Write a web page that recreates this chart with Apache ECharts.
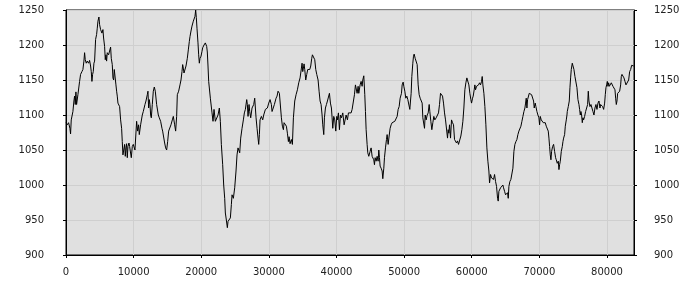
<!DOCTYPE html>
<html>
<head>
<meta charset="utf-8">
<script src="https://cdn.jsdelivr.net/npm/echarts@6/dist/echarts.min.js"></script>
<style>html,body{margin:0;padding:0;background:#fff}#c{width:700px;height:300px}</style>
</head>
<body>
<div id="c"></div>
<script>
var xTicks = [0, 10000, 20000, 30000, 40000, 50000, 60000, 70000, 80000];
var yTicks = [900, 950, 1000, 1050, 1100, 1150, 1200, 1250];

var xValues = [
0,184,283,381,578,677,776,1022,1171,1269,1368,1467,1565,1664,1763,2009,2157,2354,2502,2650,2749,2848,2996,3144,3341,3489,3637,3736,3834,3933,4032,4130,4229,4377,4525,4624,4722,4870,4969,5117,5216,5314,5462,5561,5709,5808,5906,6005,6104,6301,6449,6597,6696,6843,6942,7041,7139,7287,7386,7485,7583,7682,7781,7929,8077,8225,8323,8422,8570,8669,8767,8866,8965,9063,9162,9310,9409,9655,9803,9951,
10198,10444,10592,10740,10839,11036,11283,11431,11678,11826,12023,12122,12220,12319,12418,12516,12615,12763,12911,13059,13207,13404,13651,13799,13996,14193,14292,14489,14588,14736,14884,15032,15180,15377,15525,15723,15871,16068,16216,16364,16463,16660,16857,17005,17153,17252,17351,17449,17597,17745,17942,18090,18238,18337,18485,18633,18830,18929,19077,19176,19275,19373,19521,19620,19719,19817,19965,20113,20212,20409,20607,20804,20900,21000,
21100,21347,21594,21742,21890,22087,22334,22482,22679,22827,22975,23172,23320,23468,23567,23715,23863,23962,24159,24307,24455,24554,24751,24948,25145,25293,25441,25540,25688,25836,26033,26231,26379,26527,26724,26823,26921,27069,27168,27316,27513,27760,27908,28007,28106,28254,28401,28500,28599,28697,28895,29092,29240,29487,29783,29980,30177,30374,30473,30670,30818,31065,31213,31361,31558,
31657,31854,32002,32150,32249,32446,32594,32742,32890,32989,33137,33334,33482,33630,33827,34024,34222,34419,34616,34814,34912,35011,35110,35208,35307,35455,35603,35751,35899,36047,36195,36343,36442,36590,36787,36935,37083,37280,37428,37576,37724,37872,37971,38119,38218,38366,38514,38662,38809,38957,39105,39253,39352,39451,39599,39747,39895,40043,40141,40289,40437,40585,40733,40931,41128,41276,41424,41621,41769,41917,
42165,42313,42510,42658,42806,42905,43053,43201,43299,43497,43645,43793,43891,44039,44187,44286,44385,44532,44631,44779,44976,45124,45272,45371,45519,45618,45716,45864,46012,46160,46259,46358,46456,46604,46752,46851,46999,47098,47246,47394,47492,47640,47788,47936,48084,48232,48430,48627,48824,48972,49120,49268,49416,49613,49712,49860,49959,50107,50255,50403,50551,50699,50847,50945,51044,51143,51291,51390,51488,51636,51784,51932,52080,52228,52376,52524,52672,52771,52870,
53018,53117,53265,53413,53561,53709,53807,53955,54103,54251,54399,54547,54745,54942,55090,55238,55386,55534,55682,55830,55978,56126,56274,56422,56520,56619,56718,56866,57014,57162,57310,57458,57606,57754,57902,58050,58247,58395,58543,58691,58839,58987,59135,59283,59431,59579,59727,59875,59974,60122,60220,60368,60467,60566,60714,60862,61010,61158,61306,61453,61552,61651,61799,61947,62095,62243,62391,62539,62638,62786,62934,63082,63230,63378,
63526,63674,63822,63921,64019,64118,64266,64463,64611,64710,64858,65006,65154,65302,65401,65499,65647,65795,65943,66091,66239,66387,66535,66683,66831,66979,67127,67275,67423,67571,67719,67867,67966,68064,68163,68262,68410,68509,68656,68854,69002,69150,69248,69396,69495,69643,69791,69939,70038,70137,70285,70433,70580,70728,70876,71024,71172,71320,71419,71518,71617,71715,71814,71962,72110,72258,72406,72505,72653,72801,72900,72999,73098,73246,73394,73492,73591,73739,73838,73986,74085,
74132,74280,74428,74526,74625,74724,74872,74970,75118,75266,75414,75562,75710,75858,75957,76056,76154,76253,76352,76450,76549,76697,76845,76993,77141,77239,77338,77486,77634,77782,77930,78078,78226,78374,78522,78670,78818,78966,79065,79213,79361,79509,79657,79755,79854,79953,80051,80150,80249,80347,80495,80643,80791,80890,81038,81186,81285,81383,81482,81581,81679,81778,81877,82025,82123,82222,82370,82518,82666,82814,82913,83061,83209,83357,83505,83653,83801,83949
];

var yValues = [
1089,1086,1084,1089,1081,1073,1093,1105,1120,1127,1115,1133,1115,1117,1129,1148,1158,1162,1165,1177,1189,1179,1174,1177,1174,1178,1170,1162,1148,1158,1162,1174,1177,1208,1215,1224,1234,1240,1229,1222,1224,1217,1222,1210,1198,1179,1186,1177,1189,1186,1186,1197,1181,1172,1153,1150,1165,1165,1143,1134,1127,1117,1115,1112,1093,1081,1062,1043,1041,1058,1041,1053,1059,1039,1055,1060,1055,1039,1055,1058,
1050,1091,1077,1086,1072,1086,1100,1105,1115,1120,1129,1134,1110,1122,1115,1100,1096,1115,1134,1140,1134,1115,1100,1096,1091,1081,1077,1077,1060,1053,1050,1062,1077,1075,1086,1093,1098,1086,1077,1098,1129,1134,1143,1150,1162,1172,1167,1160,1158,1170,1181,1193,1205,1212,1220,1227,1234,1236,1241,1250,1239,1224,1203,1186,1174,1181,1184,1191,1196,1200,1203,1198,1190,1170,
1148,1124,1103,1091,1108,1091,1093,1100,1110,1091,1058,1029,1000,981,960,950,939,948,946,953,972,986,981,996,1020,1043,1053,1055,1046,1067,1081,1093,1103,1108,1122,1115,1098,1115,1105,1096,1110,1115,1124,1110,1096,1081,1067,1058,1072,1093,1098,1093,1100,1108,1110,1117,1122,1115,1105,1104,1115,1124,1127,1134,1131,
1129,1096,1084,1079,1089,1091,1084,1074,1062,1069,1059,1065,1058,1096,1120,1129,1136,1146,1153,1167,1174,1162,1167,1173,1165,1150,1158,1165,1167,1165,1170,1181,1186,1184,1179,1165,1158,1150,1134,1120,1115,1100,1086,1072,1096,1110,1115,1120,1120,1131,1117,1110,1096,1081,1098,1093,1077,1098,1093,1103,1079,1100,1096,1103,1086,1084,1100,1093,1103,1105,
1103,1108,1120,1129,1143,1141,1131,1141,1131,1143,1148,1141,1150,1156,1129,1105,1079,1058,1046,1041,1048,1053,1041,1043,1036,1029,1039,1034,1041,1034,1050,1039,1027,1024,1020,1009,1024,1039,1053,1065,1072,1058,1070,1081,1086,1089,1089,1091,1089,1098,1108,1112,1124,1131,1143,1147,1141,1134,1124,1127,1122,1124,1108,1120,1131,1155,1174,1184,1187,1181,1181,1172,1143,1129,1124,1122,1117,1096,1098,
1081,1100,1093,1100,1103,1115,1105,1091,1079,1089,1098,1093,1096,1098,1103,1115,1131,1129,1127,1117,1103,1093,1093,1067,1079,1074,1086,1067,1093,1089,1086,1065,1063,1060,1063,1058,1058,1070,1079,1091,1110,1136,1146,1153,1152,1143,1131,1122,1117,1124,1127,1136,1143,1136,1141,1139,1143,1146,1143,1148,1155,1143,1131,1112,1086,1053,1034,1020,1003,1015,1010,1012,1008,1015,
1005,998,981,977,991,993,996,998,1000,996,991,986,984,989,981,998,1005,1008,1010,1024,1048,1058,1062,1065,1072,1077,1079,1084,1091,1098,1105,1110,1117,1124,1110,1122,1122,1131,1130,1129,1127,1120,1110,1117,1112,1105,1100,1096,1086,1098,1093,1093,1089,1091,1089,1084,1086,1077,1067,1055,1043,1036,1048,1055,1058,1048,1039,1036,1031,1034,1022,1029,1034,1048,1055,1062,1067,1072,1084,1093,1100,
1105,1112,1120,1139,1153,1165,1174,1176,1165,1155,1153,1139,1122,1115,1108,1100,1105,1100,1089,1096,1093,1098,1105,1110,1115,1134,1120,1112,1115,1115,1105,1100,1110,1115,1108,1117,1120,1110,1115,1115,1112,1108,1117,1129,1139,1143,1148,1141,1146,1141,1143,1146,1148,1141,1141,1136,1124,1115,1120,1131,1129,1129,1134,1143,1155,1158,1160,1153,1148,1143,1141,1143,1150,1162,1165,1171,1172,1170
];

var seriesData = xValues.map(function (x, i) { return [x, yValues[i]]; });

var chart = echarts.init(document.getElementById('c'), null, { renderer: 'canvas' });
var labelStyle = { color: '#222', fontFamily: 'DejaVu Sans', fontSize: 10 };
function plain(v) { return String(v); }
chart.setOption({
  animation: false,
  backgroundColor: '#ffffff',
  grid: {
    left: 66, right: 66, top: 10, bottom: 45,
    show: true, backgroundColor: '#e0e0e0', borderColor: '#000', borderWidth: 1
  },
  xAxis: {
    type: 'value', min: xTicks[0], max: 84000, interval: 10000,
    axisLine: { show: true, onZero: false, lineStyle: { color: '#000', width: 1 } },
    axisTick: { show: true, length: 3, lineStyle: { color: '#000' } },
    axisLabel: Object.assign({ margin: 12, showMaxLabel: false,
      formatter: function (v) { return xTicks.indexOf(v) >= 0 ? String(v) : ''; } }, labelStyle),
    splitLine: { show: true, lineStyle: { color: '#cfcfcf', width: 1 } }
  },
  yAxis: [
    {
      type: 'value', min: yTicks[0], max: yTicks[yTicks.length - 1], interval: 50, position: 'left',
      axisLine: { show: true, lineStyle: { color: '#000' } },
      axisTick: { show: true, length: 3, lineStyle: { color: '#000' } },
      axisLabel: Object.assign({ margin: 22, formatter: plain }, labelStyle),
      splitLine: { show: true, lineStyle: { color: '#cfcfcf', width: 1 } }
    },
    {
      type: 'value', min: yTicks[0], max: yTicks[yTicks.length - 1], interval: 50, position: 'right',
      axisLine: { show: true, lineStyle: { color: '#000' } },
      axisTick: { show: true, length: 3, lineStyle: { color: '#000' } },
      axisLabel: Object.assign({ margin: 20, formatter: plain }, labelStyle),
      splitLine: { show: false }
    }
  ],
  series: [{
    type: 'line', data: seriesData, showSymbol: false, symbol: 'none',
    lineStyle: { color: '#000', width: 1 }, clip: true
  }]
});
</script>
</body>
</html>
